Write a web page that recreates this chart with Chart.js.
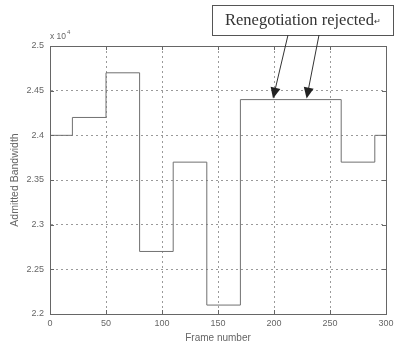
<!DOCTYPE html>
<html>
<head>
<meta charset="utf-8">
<script src="https://cdn.jsdelivr.net/npm/chart.js@4"></script>
<style>
  html, body { margin: 0; padding: 0; background: #fff; }
  #wrap { width: 398px; height: 347px; }
</style>
</head>
<body>
<div id="wrap"><canvas id="chart" width="398" height="347"></canvas></div>
<script>
"use strict";

// frame where each allocation starts, and the bandwidth held until the next one
const frameStarts = [0, 20, 50, 80, 110, 140, 170, 260, 290, 300];
const bandwidth = [24000, 24200, 24700, 22700, 23700, 22100, 24400, 23700, 24000, 24000];

const xTicks = [0, 50, 100, 150, 200, 250, 300];
const yTicks = [22000, 22500, 23000, 23500, 24000, 24500, 25000];

// frames where the renegotiation request was turned down
const rejectedFrames = [200, 230];
const rejectedLevel = 24400;
const noteText = 'Renegotiation rejected';

const axisColor = '#666';
const gridColor = '#9a9a9a';
const tickFont = { family: 'Liberation Sans, Arial, sans-serif', size: 9 };

// box around the axes, inward tick marks, the x10^4 multiplier and the callout
const decorations = {
  id: 'decorations',
  afterDraw(chart) {
    const ctx = chart.ctx;
    const a = chart.chartArea;
    const xs = chart.scales.x, ys = chart.scales.y;
    ctx.save();

    ctx.strokeStyle = axisColor;
    ctx.lineWidth = 1;
    ctx.strokeRect(Math.round(a.left) + 0.5, Math.round(a.top) + 0.5,
                   Math.round(a.right - a.left), Math.round(a.bottom - a.top));

    ctx.beginPath();
    xTicks.forEach(function(v) {
      const px = Math.round(xs.getPixelForValue(v)) + 0.5;
      ctx.moveTo(px, a.bottom); ctx.lineTo(px, a.bottom - 4);
      ctx.moveTo(px, a.top); ctx.lineTo(px, a.top + 4);
    });
    yTicks.forEach(function(v) {
      const py = Math.round(ys.getPixelForValue(v)) + 0.5;
      ctx.moveTo(a.left, py); ctx.lineTo(a.left + 4, py);
      ctx.moveTo(a.right, py); ctx.lineTo(a.right - 4, py);
    });
    ctx.stroke();

    ctx.fillStyle = axisColor;
    ctx.textBaseline = 'alphabetic';
    ctx.font = '8.5px Liberation Sans, Arial, sans-serif';
    ctx.fillText('x 10', a.left, a.top - 7);
    ctx.font = '6px Liberation Sans, Arial, sans-serif';
    ctx.fillText('4', a.left + 17, a.top - 12);

    // callout box
    const bx = 212, by = 5, bw = 181, bh = 30;
    ctx.fillStyle = '#fff';
    ctx.fillRect(bx, by, bw, bh);
    ctx.strokeStyle = '#555';
    ctx.strokeRect(bx + 0.5, by + 0.5, bw, bh);
    ctx.fillStyle = '#333';
    ctx.font = '16.5px Liberation Serif, Times New Roman, serif';
    ctx.textBaseline = 'middle';
    ctx.fillText(noteText, 225, by + bh / 2 + 1);
    const tw = ctx.measureText(noteText).width;
    ctx.font = '8px Liberation Serif, serif';
    ctx.fillText('\u21B5', 225 + tw, by + bh / 2 + 2);

    // arrows from the box down to the flat segment
    const starts = [288, 319];
    rejectedFrames.forEach(function(f, i) {
      const tx = xs.getPixelForValue(f) - 1;
      const ty = ys.getPixelForValue(rejectedLevel) - 1;
      const sx = starts[i], sy = by + bh;
      const ang = Math.atan2(ty - sy, tx - sx);
      ctx.strokeStyle = '#333';
      ctx.beginPath();
      ctx.moveTo(sx, sy);
      ctx.lineTo(tx - 8 * Math.cos(ang), ty - 8 * Math.sin(ang));
      ctx.stroke();
      ctx.fillStyle = '#222';
      ctx.beginPath();
      ctx.moveTo(tx, ty);
      ctx.lineTo(tx - 11 * Math.cos(ang) + 5 * Math.sin(ang), ty - 11 * Math.sin(ang) - 5 * Math.cos(ang));
      ctx.lineTo(tx - 11 * Math.cos(ang) - 5 * Math.sin(ang), ty - 11 * Math.sin(ang) + 5 * Math.cos(ang));
      ctx.closePath();
      ctx.fill();
    });

    ctx.restore();
  }
};

const points = frameStarts.map(function(f, i) { return { x: f, y: bandwidth[i] }; });

new Chart('chart', {
  type: 'line',
  data: {
    datasets: [{
      data: points,
      stepped: 'before',
      borderColor: '#707070',
      borderWidth: 1,
      pointRadius: 0,
      fill: false
    }]
  },
  options: {
    responsive: false,
    animation: false,
    events: [],
    layout: { padding: { left: 0, top: 46, right: 12, bottom: 0 } },
    plugins: { legend: { display: false }, tooltip: { enabled: false } },
    scales: {
      x: {
        type: 'linear',
        min: 0, max: 300,
        afterBuildTicks: function(s) { s.ticks = xTicks.map(function(v) { return { value: v }; }); },
        afterFit: function(s) { s.height = 33; },
        ticks: { color: axisColor, font: tickFont, padding: 4, maxRotation: 0 },
        grid: { color: gridColor, drawTicks: false, lineWidth: 1 },
        border: { display: true, color: axisColor, dash: [2, 3] },
        title: {
          display: true, text: 'Frame number', color: axisColor,
          font: { family: 'Liberation Sans, Arial, sans-serif', size: 10 },
          padding: { top: 0, bottom: 3 }
        }
      },
      y: {
        type: 'linear',
        min: 22000, max: 25000,
        afterBuildTicks: function(s) { s.ticks = yTicks.map(function(v) { return { value: v }; }); },
        afterFit: function(s) { s.width = 50; },
        ticks: {
          color: axisColor, font: tickFont, padding: 6,
          callback: function(v) { return String(+(v / 10000).toFixed(2)); }
        },
        grid: { color: gridColor, drawTicks: false, lineWidth: 1 },
        border: { display: true, color: axisColor, dash: [2, 3] },
        title: {
          display: true, text: 'Admitted Bandwidth', color: axisColor,
          font: { family: 'Liberation Sans, Arial, sans-serif', size: 10.5 },
          padding: { top: 9, bottom: 0 }
        }
      }
    }
  },
  plugins: [decorations]
});
</script>
</body>
</html>
